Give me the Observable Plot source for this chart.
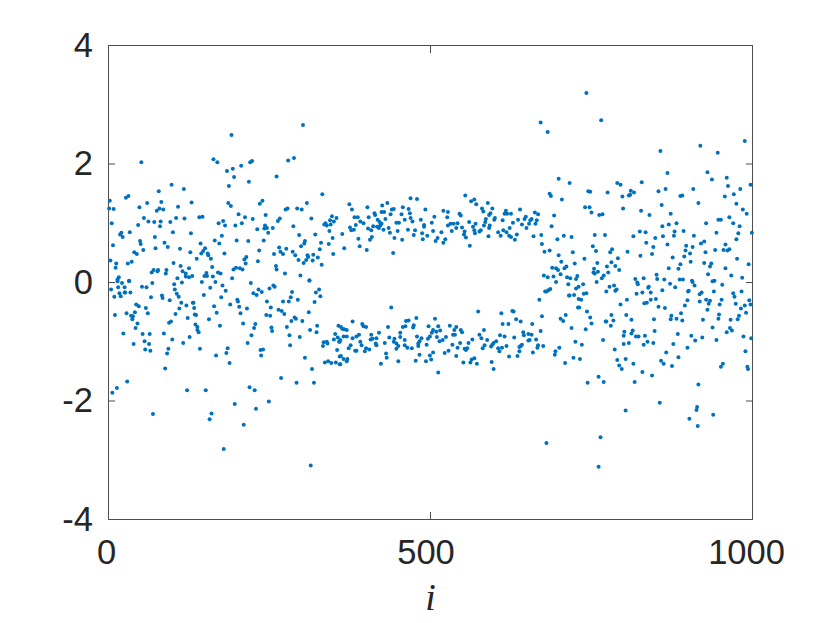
<!DOCTYPE html>
<html><head><meta charset="utf-8">
<style>html,body{margin:0;padding:0;background:#fff}svg{display:block}</style>
<script src="https://cdn.jsdelivr.net/npm/d3@7"></script>
<script src="https://cdn.jsdelivr.net/npm/@observablehq/plot@0.6"></script>
</head><body><div id="chart"></div>
<script>
const upperLeft=[[302,2.66],[191,2.49],[51,2.03],[163,2.08],[169,2.03],[184,1.88],[193,1.92],[206,1.97],[220,2.03],[223,2.05],[279,2.06],[288,2.10],[195,1.78],[218,1.70],[261,1.79],[187,1.63],[98,1.65],[117,1.58],[78,1.54],[332,1.49],[31,1.46],[27,1.43],[2,1.38],[60,1.34],[82,1.36],[129,1.35],[186,1.34],[190,1.29],[239,1.38],[235,1.33],[308,1.34],[1,1.25],[8,1.24],[48,1.27],[75,1.21],[79,1.25],[85,1.23],[108,1.28],[275,1.23],[278,1.25],[293,1.25],[300,1.23],[202,1.15],[244,1.14],[141,1.10],[146,1.11],[55,1.09],[105,1.09],[118,1.08],[212,1.10],[224,1.07],[266,1.08],[263,1.04],[315,1.08],[347,1.12],[354,1.09],[5,1.0],[62,1.03],[71,1.02],[81,1.03],[96,1.02],[178,1.04],[171,1.0],[181,.96],[207,1.0],[197,.96],[80,.95],[46,.97],[335,.98],[337,1.0],[339,.96],[344,1.05],[345,.98],[350,1.03],[243,.96],[242,.91],[246,.92],[231,.90],[255,.92],[287,.95],[33,.85],[20,.84],[18,.81],[22,.77],[100,.85],[128,.83],[248,.84],[296,.80],[321,.81],[343,.87],[72,.77],[176,.79],[348,.75],[165,.71],[199,.71],[217,.70],[241,.71],[49,.70],[50,.65],[87,.67],[143,.66],[172,.66],[7,.63],[305,.70],[304,.66],[299,.61],[330,.67],[342,.65],[73,.58],[92,.60],[111,.57],[150,.58],[265,.59],[276,.57],[54,.55],[234,.54],[147,.53],[144,.49],[127,.51],[40,.51],[44,.48],[154,.49],[155,.46],[180,.49],[267,.52],[271,.48],[257,.48],[286,.52],[290,.46],[328,.56],[349,.48],[318,.47],[309,.46],[325,.42],[310,.43],[214,.43],[211,.39],[137,.40],[159,.40],[295,.38],[307,.38],[317,.37],[3,.37],[36,.35],[30,.32],[12,.32],[101,.33],[213,.32],[232,.36],[303,.33],[331,.30],[11,.25],[112,.28],[161,.26],[260,.28],[261,.22],[194,.22],[198,.25],[204,.24],[208,.22],[125,.24],[70,.21],[67,.17],[77,.21],[76,.19],[90,.21],[89,.15],[115,.19],[120,.15],[170,.17],[174,.15],[274,.15],[298,.12],[16,.09],[14,.05],[32,.03],[107,.07],[120,.10],[125,.09],[130,.11],[152,.16],[149,.11],[153,.11],[162,.10],[192,.07],[312,.04]];
const lowerLeft=[[14,.02],[21,-.01],[32,.02],[68,-.01],[4,-.12],[15,-.08],[25,-.08],[9,-.24],[17,-.18],[19,-.23],[25,-.17],[26,-.17],[34,-.17],[52,-.07],[59,-.08],[66,-.25],[83,-.22],[84,-.26],[102,-.03],[103,-.12],[106,-.19],[109,-.24],[114,0],[95,-.30],[113,-.34],[145,.01],[166,.01],[177,-.05],[158,-.09],[182,-.14],[148,-.21],[175,-.25],[131,-.34],[132,-.34],[121,-.39],[133,-.43],[110,-.44],[164,-.40],[189,-.37],[200,-.29],[201,-.32],[203,-.41],[215,-.44],[221,-.01],[225,-.18],[230,-.21],[233,-.12],[238,-.16],[250,-.10],[256,-.05],[258,-.07],[246,-.32],[252,-.42],[271,-.32],[280,-.32],[283,-.25],[285,-.16],[294,-.29],[320,-.33],[322,-.17],[327,-.12],[329,-.23],[312,.03],[311,-.50],[264,-.46],[269,-.48],[273,-.53],[245,-.55],[251,-.56],[205,-.52],[168,-.51],[136,-.55],[134,-.54],[104,-.53],[123,-.60],[58,-.43],[61,-.52],[41,-.50],[43,-.37],[47,-.40],[28,-.52],[10,-.55],[35,-.56],[38,-.57],[37,-.62],[45,-.69],[42,-.77],[23,-.86],[53,-.87],[64,-.87],[86,-.86],[94,-.68],[97,-.66],[135,-.71],[138,-.75],[138,-.80],[140,-.84],[156,-.62],[173,-.73],[209,-.69],[228,-.70],[226,-.77],[222,-.89],[253,-.76],[254,-.82],[289,-.59],[291,-.61],[284,-.65],[301,-.65],[277,-.75],[324,-.73],[313,-.80],[323,-.84],[281,-.89],[297,-.92],[357,-.73],[352,-.87],[350,-.96],[356,-.93],[358,-1.0],[334,-1.01],[339,-1.0],[340,-1.03],[333,-1.07],[56,-.99],[63,-1.04],[99,-.96],[126,-.92],[116,-1.02],[216,-1.02],[39,-1.04],[282,-1.06],[57,-1.13],[65,-1.15],[93,-1.12],[91,-1.2],[142,-1.12],[167,-1.23],[183,-1.19],[185,-1.11],[188,-1.36],[236,-1.14],[240,-1.13],[237,-1.23],[355,-1.14],[305,-1.27],[336,-1.35],[341,-1.33],[346,-1.36],[353,-1.35],[359,-1.25],[359,-1.38],[88,-1.45],[316,-1.46],[268,-1.61],[292,-1.69],[319,-1.69],[29,-1.67],[13,-1.78],[6,-1.86],[122,-1.82],[151,-1.82],[219,-1.77],[227,-1.82],[249,-2.01],[196,-2.05],[229,-2.13],[160,-2.21],[157,-2.31],[69,-2.22],[210,-2.40],[179,-2.81],[314,-3.09]];
const upperBand=[[363,.82],[366,.58],[374,1.32],[378,1.23],[375,.93],[377,.88],[381,.89],[382,1.10],[387,1.10],[384,.97],[388,.74],[390,.61],[391,1.03],[396,1.0],[401,.55],[402,1.27],[404,1.10],[403,.91],[406,.72],[409,.77],[408,.88],[411,.95],[413,1.17],[414,1.14],[418,1.06],[417,.94],[421,1.02],[422,.96],[420,.92],[424,.99],[427,.89],[425,1.30],[433,1.34],[424,1.19],[428,1.19],[430,1.07],[435,.92],[437,.84],[438,1.15],[440,1.23],[443,1.24],[444,.75],[442,.50],[447,1.01],[451,1.01],[449,.87],[455,1.15],[457,1.27],[460,1.06],[456,.72],[465,.89],[466,1.24],[468,1.17],[469,1.09],[472,1.03],[469,1.42],[479,1.41],[476,.88],[474,.80],[485,1.06],[487,.83],[488,.73],[490,.97],[490,.94],[492,1.23],[495,.79],[502,1.01],[504,.87],[506,1.11],[511,.75],[508,.70],[517,.85],[520,1.21],[527,1.19],[526,1.10],[527,.96],[523,.73],[520,.67],[531,.99],[533,.87],[536,.99],[540,.92],[542,1.0],[545,1.16],[547,1.13],[549,.93],[553,.86],[552,.81],[555,.76],[561,.62],[560,1.02],[554,1.47],[563,1.37],[568,1.40],[571,1.32],[566,.94],[570,.99],[568,.88],[569,.83],[576,.86],[578,.88],[580,1.25],[582,1.20],[589,1.34],[596,1.25],[593,1.17],[591,1.14],[586,1.07],[585,1.02],[583,.96],[592,.96],[591,.92],[590,.78],[600,1.09],[599,1.06],[605,.85],[609,.79],[613,.88],[617,1.21],[615,1.16],[619,1.16],[625,1.16],[612,1.05],[618,.85],[623,.92],[622,.79],[625,.77],[628,1.01],[634,.81],[631,.72],[636,1.06],[639,1.23],[642,.98],[646,1.07],[648,1.11],[649,.92],[653,.99],[655,1.05],[657,1.07],[662,1.18],[667,1.15],[665,1.05],[663,.99],[660,.78]];
const lowerBand=[[361,-.75],[363,-.78],[366,-.79],[370,-.80],[379,-.66],[365,-.91],[370,-.91],[360,-.97],[359,-1.0],[361,-1.24],[365,-1.29],[371,-1.29],[370,-1.33],[360,-1.38],[379,-.94],[373,-1.11],[376,-1.06],[383,-1.15],[385,-1.15],[385,-.91],[389,-.88],[391,-1.0],[393,-1.06],[394,-.70],[396,-.74],[400,-.75],[400,-1.11],[398,-1.16],[405,-1.13],[407,-.96],[410,-.95],[408,-.88],[416,-.94],[420,-.85],[415,-1.03],[416,-1.06],[423,-1.37],[429,-1.02],[431,-1.20],[432,-1.27],[434,-.75],[436,-.93],[439,-.42],[443,-1.0],[444,-.95],[447,-1.03],[447,-1.12],[450,-1.33],[450,-1.07],[453,-.92],[453,-.85],[457,-.75],[461,-.74],[462,-.65],[466,-.64],[460,-.97],[460,-1.06],[464,-1.10],[471,-1.11],[473,-.76],[474,-.72],[478,-.60],[479,-.91],[486,-.94],[483,-.99],[481,-1.03],[481,-1.07],[477,-1.32],[483,-1.22],[493,-1.33],[499,-1.23],[501,-1.30],[494,-1.05],[496,-.95],[499,-.91],[502,-.85],[497,-.74],[504,-.80],[507,-.61],[509,-.83],[515,-.81],[512,-.74],[510,-.92],[514,-.99],[519,-.97],[524,-.92],[504,-1.18],[512,-1.52],[522,-1.19],[528,-1.15],[530,-.73],[534,-1.05],[535,-.88],[538,-.88],[537,-.80],[540,-.75],[547,-.80],[549,-.84],[542,-1.10],[546,-1.02],[540,-1.24],[551,-1.35],[553,-1.12],[557,-1.11],[559,-1.02],[555,-1.14],[565,-.96],[562,-1.35],[564,-1.30],[568,-1.28],[572,-1.37],[574,-.49],[576,-.88],[579,-.94],[583,-.80],[588,-.97],[581,-1.11],[584,-1.06],[594,-1.08],[598,-1.02],[596,-1.05],[602,-.99],[595,-1.34],[598,-1.46],[605,-1.11],[607,-1.16],[611,-1.10],[618,-1.07],[608,-.89],[615,-.91],[610,-.52],[612,-.70],[621,-.70],[627,-.48],[629,-.49],[633,-.62],[640,-.66],[630,-.93],[622,-1.25],[635,-1.24],[638,-1.16],[638,-1.09],[640,-1.07],[642,-1.05],[644,-.84],[645,-.89],[652,-.98],[654,-.97],[652,-.87],[657,-.88],[658,-.70],[659,-1.18],[666,-1.10],[667,-1.06],[664,-.96],[669,-.29]];
const upperRight=[[671,2.70],[682,2.54],[742,3.20],[765,2.74],[857,2.22],[919,2.31],[946,2.19],[988,2.39],[868,1.85],[930,1.86],[937,1.74],[960,1.77],[997,1.65],[699,1.75],[716,1.68],[790,1.68],[795,1.65],[828,1.69],[962,1.63],[811,1.55],[816,1.52],[745,1.54],[748,1.53],[775,1.52],[685,1.50],[687,1.46],[704,1.40],[798,1.45],[808,1.47],[810,1.48],[854,1.54],[865,1.58],[908,1.58],[981,1.58],[971,1.49],[888,1.46],[891,1.47],[957,1.45],[859,1.31],[916,1.34],[975,1.33],[740,1.27],[747,1.27],[799,1.25],[750,1.18],[762,1.14],[767,1.15],[827,1.21],[840,1.14],[873,1.16],[985,1.23],[991,1.16],[692,1.13],[688,.95],[947,1.06],[951,1.06],[964,1.10],[928,1.0],[970,1.0],[980,.95],[870,.98],[882,1.0],[860,.95],[672,.80],[697,.73],[707,.79],[719,.77],[755,.80],[771,.80],[815,.78],[825,.86],[834,.85],[849,.75],[861,.78],[879,.86],[878,.79],[893,.87],[909,.79],[944,.84],[978,.83],[975,.73],[999,.84],[673,.65],[677,.52],[685,.54],[752,.61],[757,.53],[779,.51],[782,.56],[806,.52],[835,.67],[846,.60],[844,.48],[868,.64],[897,.62],[907,.60],[920,.66],[925,.69],[927,.51],[958,.64],[942,.55],[955,.55],[961,.54],[964,.56],[896,.54],[903,.49],[894,.44],[721,.51],[699,.46],[826,.45],[876,.42],[976,.40],[703,.35],[724,.32],[739,.40],[791,.41],[759,.33],[781,.34],[774,.27],[787,.28],[793,.21],[904,.35],[925,.33],[936,.32],[934,.27],[888,.31],[994,.31],[870,.24],[885,.23],[958,.24],[689,.25],[695,.24],[698,.21],[708,.24],[711,.27],[754,.23],[753,.17],[755,.15],[760,.18],[776,.17],[769,.12],[702,.14],[676,.12],[682,.09],[691,.10],[712,.09],[717,.07],[728,.11],[726,.06],[766,.07],[851,.13],[818,.06],[831,.07],[852,.06],[863,.05],[887,.05],[892,.05],[906,.03],[931,.14],[941,.03],[967,.12],[984,.08]];
const lowerRight=[[695,.01],[714,-.03],[758,.01],[737,-.03],[730,-.07],[726,-.10],[785,-.05],[778,-.07],[773,-.15],[787,-.14],[789,-.12],[822,-.03],[821,0],[839,-.07],[838,-.09],[872,-.02],[880,-.08],[860,-.13],[910,-.05],[907,.01],[938,.02],[953,-.04],[901,-.14],[900,-.15],[940,-.15],[921,-.17],[918,-.2],[983,-.15],[970,-.18],[972,-.24],[686,-.11],[683,-.13],[680,-.15],[678,-.15],[723,-.21],[715,-.22],[716,-.22],[738,-.19],[742,-.18],[730,-.28],[734,-.29],[820,-.19],[829,-.17],[842,-.17],[805,-.29],[795,-.37],[832,-.35],[836,-.34],[842,-.29],[850,-.28],[854,-.41],[864,-.43],[899,-.30],[895,-.39],[918,-.32],[928,-.29],[934,-.31],[932,-.36],[930,-.46],[949,-.37],[952,-.29],[974,-.36],[982,-.44],[988,-.39],[995,-.30],[997,-.37],[990,-.51],[979,-.56],[977,-.62],[948,-.54],[947,-.61],[966,-.63],[938,-.76],[965,-.77],[968,-.81],[960,-.84],[944,-.97],[986,-.91],[998,-.94],[889,-.52],[874,-.56],[873,-.62],[882,-.61],[891,-.64],[923,-.63],[847,-.62],[812,-.63],[804,-.55],[781,-.55],[784,-.64],[772,-.66],[773,-.66],[780,-.73],[750,-.69],[748,-.59],[743,-.49],[710,-.55],[702,-.61],[706,-.65],[673,-.57],[729,-.42],[731,-.42],[719,-.77],[741,-.79],[671,-.82],[801,-.83],[800,-.90],[812,-.86],[814,-.81],[819,-.91],[823,-.91],[833,-.90],[848,-.82],[837,-1.0],[846,-1.02],[831,-1.05],[884,-.87],[905,-.90],[922,-.93],[911,-.98],[877,-1.04],[899,-1.10],[808,-1.02],[800,-1.04],[768,-.97],[725,-1.0],[735,-1.05],[675,-1.07],[700,-1.10],[694,-1.16],[693,-1.22],[722,-1.27],[732,-1.29],[709,-1.36],[786,-1.13],[790,-1.31],[803,-1.29],[793,-1.40],[797,-1.46],[815,-1.37],[866,-1.18],[858,-1.32],[862,-1.37],[885,-1.26],[875,-1.41],[954,-1.37],[951,-1.42],[989,-1.16],[992,-1.42],[993,-1.46],[829,-1.51],[844,-1.57],[761,-1.59],[769,-1.68],[744,-1.69],[817,-1.68],[916,-1.72],[856,-2.03],[803,-2.16],[914,-2.10],[913,-2.15],[939,-2.23],[902,-2.30],[915,-2.42],[764,-2.61],[680,-2.71],[761,-3.11]];
const xTicks=[0,500,1000];
const yTicks=[-4,-2,0,2,4];
const points=[...upperLeft,...lowerLeft,...upperBand,...lowerBand,...upperRight,...lowerRight];
const ink="#262626", axisColor="#4d4d4d", dotColor="#0072BD";
const font='"Liberation Sans",Arial,sans-serif';
const xLabelShift=[-2,-4.5,-6];
const plot=Plot.plot({
  width:830,height:623,
  marginLeft:108,marginRight:78,marginTop:45,marginBottom:104,
  style:{background:"#fff",fontFamily:font},
  x:{domain:[0,1000]},
  y:{domain:[-4,4]},
  marks:[
    Plot.frame({stroke:axisColor,strokeWidth:1}),
    Plot.axisX({anchor:"bottom",ticks:xTicks,tickSize:-7,fill:"none",label:null,stroke:axisColor}),
    Plot.axisX({anchor:"top",ticks:xTicks,tickSize:-7,fill:"none",label:null,stroke:axisColor}),
    ...xTicks.map((t,k)=>Plot.axisX({anchor:"bottom",ticks:[t],tickSize:0,stroke:"none",tickPadding:19.5,dx:xLabelShift[k],tickFormat:String,label:null,fill:ink,fontSize:34.5})),
    Plot.axisY({anchor:"left",ticks:yTicks,tickSize:-7,fill:"none",label:null,stroke:axisColor}),
    Plot.axisY({anchor:"right",ticks:yTicks,tickSize:-7,fill:"none",label:null,stroke:axisColor}),
    Plot.axisY({anchor:"left",ticks:yTicks,tickSize:0,stroke:"none",tickPadding:15.5,tickFormat:String,label:null,fill:ink,fontSize:34.5}),
    Plot.dot(points,{x:d=>d[0],y:d=>d[1],r:2,fill:dotColor,stroke:"none"}),
    Plot.text(["i"],{frameAnchor:"bottom",dy:90,text:d=>d,fontSize:38,fontStyle:"italic",fontFamily:'"Liberation Serif",serif',fill:ink})
  ]
});
document.getElementById("chart").append(plot);
</script></body></html>
